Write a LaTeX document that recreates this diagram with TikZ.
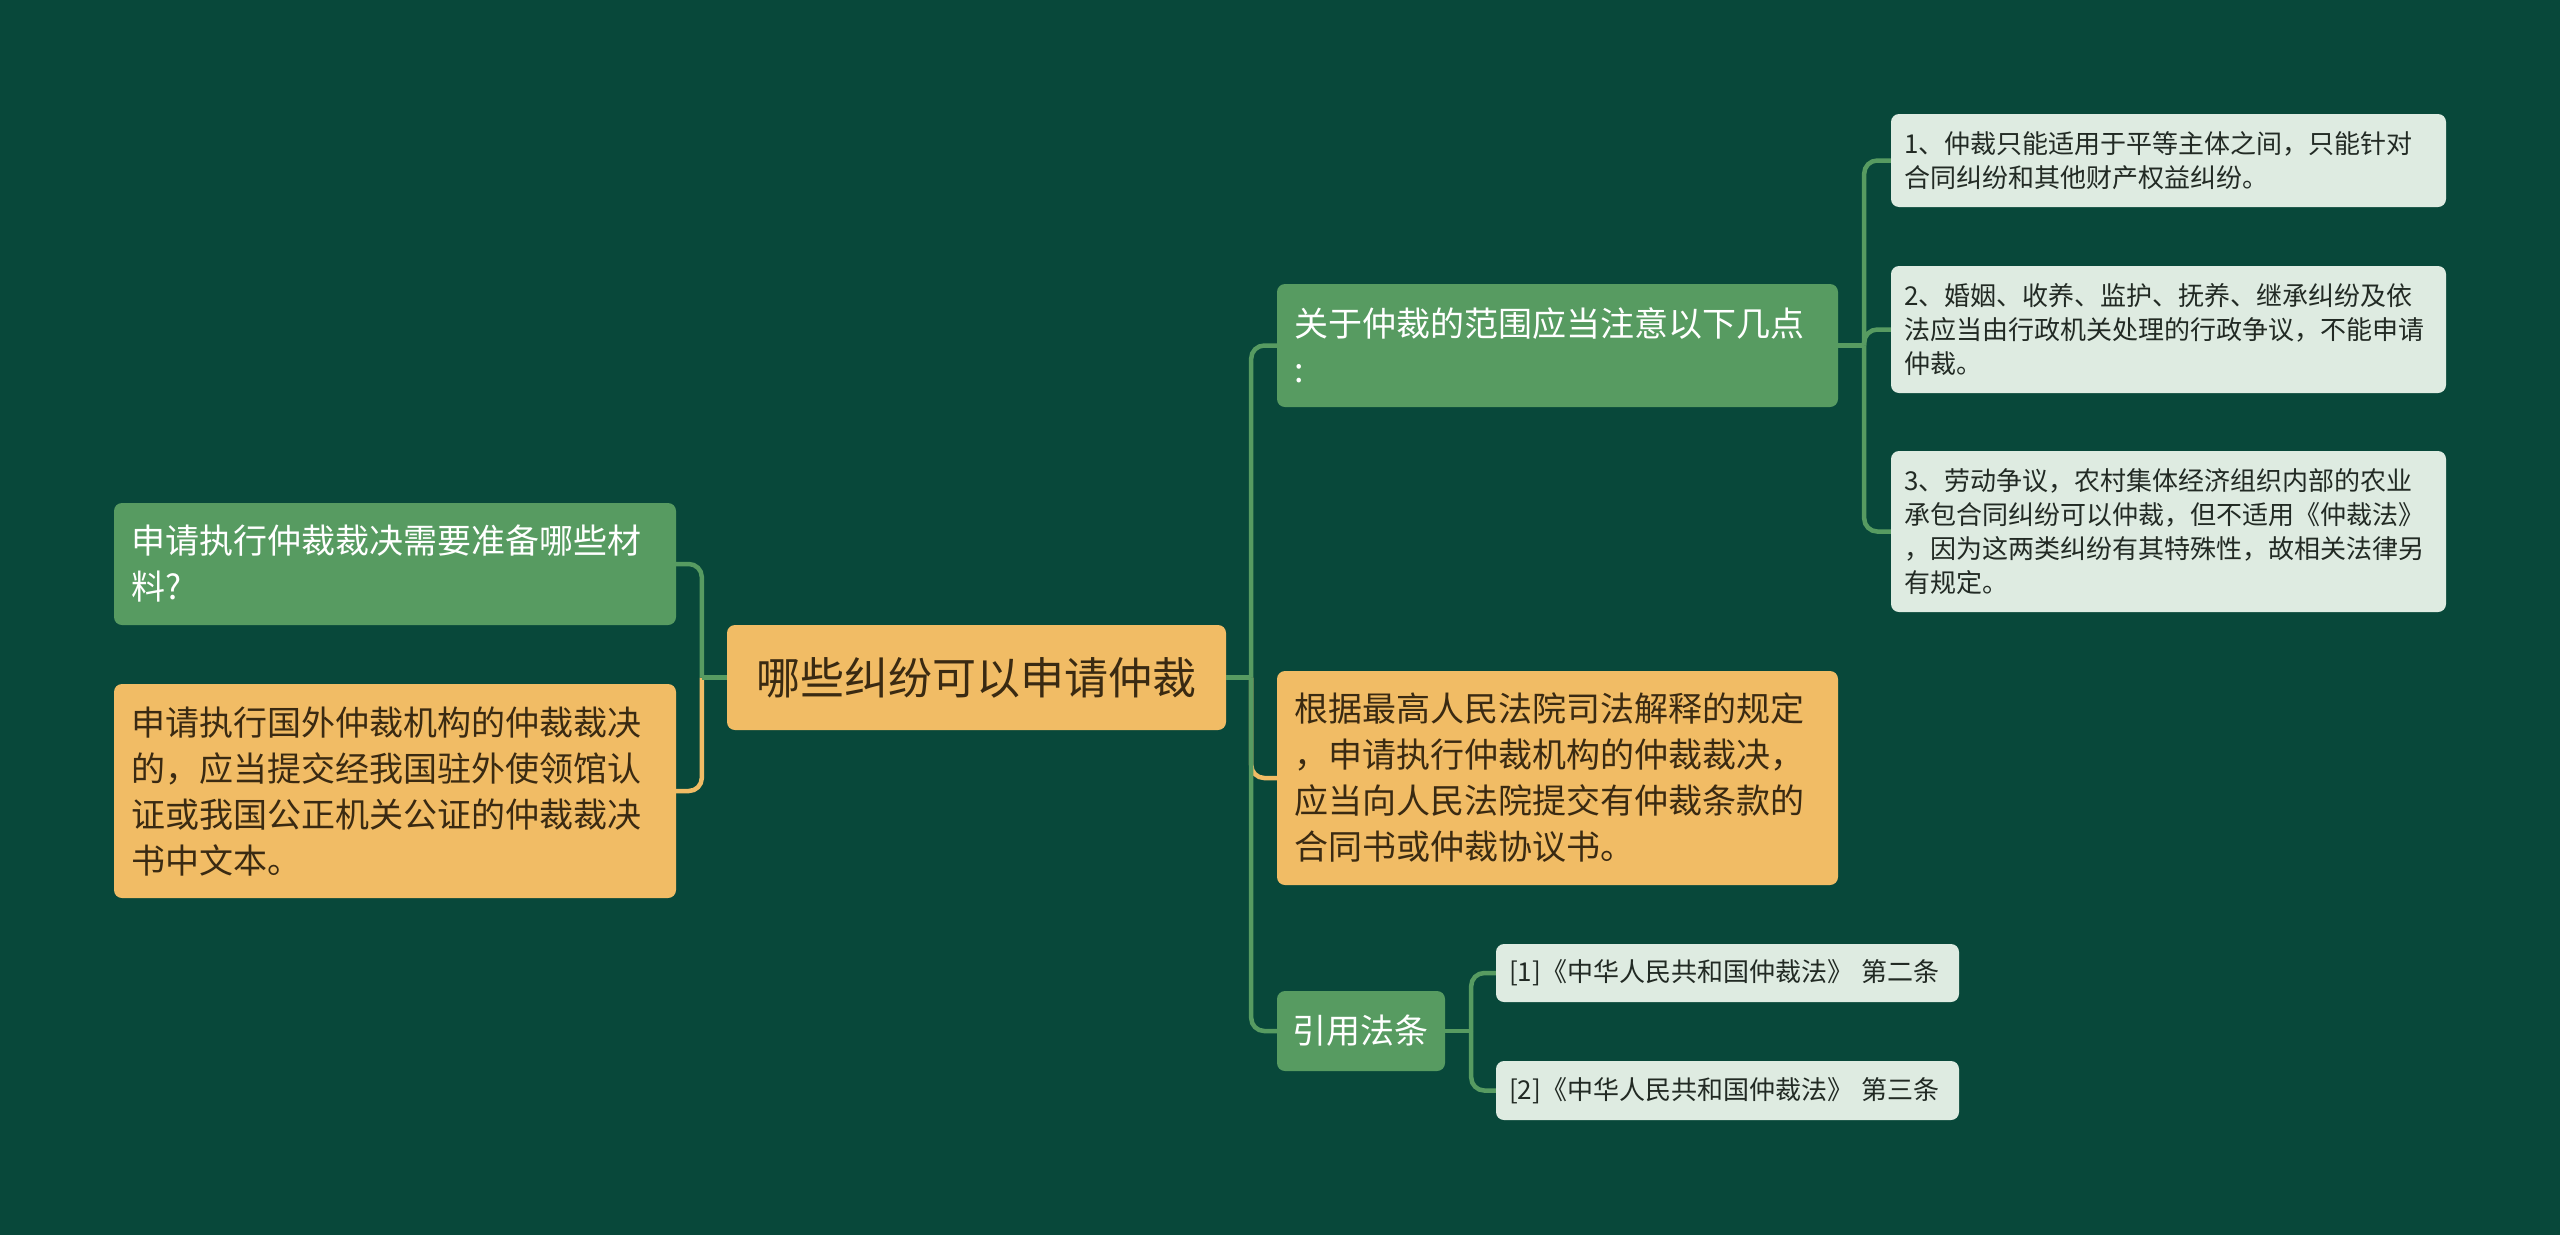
\documentclass[tikz,border=0pt]{standalone}
\usepackage{fontspec}
\setmainfont{Noto Sans CJK SC}
\definecolor{bg}{HTML}{08483A}
\definecolor{gfill}{HTML}{579B61}
\definecolor{ofill}{HTML}{F1BC65}
\definecolor{lfill}{HTML}{DEEBE1}
\definecolor{otext}{HTML}{3A2A12}
\definecolor{ltext}{HTML}{222A24}
\begin{document}
\begin{tikzpicture}[x=1pt,y=-1pt,
  box/.style={rectangle, rounded corners=8pt, inner ysep=0pt, inner xsep=17pt, align=left,
    font=\fontsize{34}{46}\selectfont},
  gbox/.style={box, fill=gfill, text=white},
  obox/.style={box, fill=ofill, text=otext},
  lbox/.style={box, fill=lfill, text=ltext, inner xsep=13pt, font=\fontsize{26}{34}\selectfont},
  gline/.style={draw=gfill, line width=4.5pt},
  oline/.style={draw=ofill, line width=4.5pt},
  curvy/.style={rounded corners=13pt}]
\useasboundingbox (0,0) rectangle (2560,1235);
\fill[bg] (0,0) rectangle (2560,1235);

% nodes
\node[obox, align=center, inner xsep=24pt, text width=451pt, minimum height=105pt,
  font=\fontsize{44}{52}\selectfont] (root) at (976.5,677.5) {哪些纠纷可以申请仲裁};

\node[gbox, text width=528pt, minimum height=122pt] (L1) at (395,564)
  {申请执行仲裁裁决需要准备哪些材\\料?};
\node[obox, text width=528pt, minimum height=214pt] (L2) at (395,791)
  {申请执行国外仲裁机构的仲裁裁决\\的，应当提交经我国驻外使领馆认\\证或我国公正机关公证的仲裁裁决\\书中文本。};

\node[gbox, text width=527pt, minimum height=123pt] (R1) at (1557.5,345.5)
  {关于仲裁的范围应当注意以下几点\\:};
\node[obox, text width=527pt, minimum height=214pt] (R2) at (1557.5,778)
  {根据最高人民法院司法解释的规定\\，申请执行仲裁机构的仲裁裁决，\\应当向人民法院提交有仲裁条款的\\合同书或仲裁协议书。};
\node[gbox, inner xsep=15pt, text width=138pt, minimum height=80pt] (R3) at (1361,1031)
  {引用法条};

\node[lbox, text width=529pt, minimum height=93pt] (RR1) at (2168.5,160.5)
  {1、仲裁只能适用于平等主体之间，只能针对\\合同纠纷和其他财产权益纠纷。};
\node[lbox, text width=529pt, minimum height=127pt] (RR2) at (2168.5,329.5)
  {2、婚姻、收养、监护、抚养、继承纠纷及依\\法应当由行政机关处理的行政争议，不能申请\\仲裁。};
\node[lbox, text width=529pt, minimum height=161pt] (RR3) at (2168.5,531.5)
  {3、劳动争议，农村集体经济组织内部的农业\\承包合同纠纷可以仲裁，但不适用《仲裁法》\\，因为这两类纠纷有其特殊性，故相关法律另\\有规定。};

\node[lbox, text width=437pt, minimum height=58pt] (C1) at (1727.5,973)
  {[1]《中华人民共和国仲裁法》 第二条};
\node[lbox, text width=437pt, minimum height=59pt] (C2) at (1727.5,1090.5)
  {[2]《中华人民共和国仲裁法》 第三条};

% junctions
\coordinate (jr) at ([xshift=25pt]root.east);
\coordinate (jl) at ([xshift=-25pt]root.west);
\coordinate (j1) at ([xshift=26pt]R1.east);
\coordinate (j3) at ([xshift=26pt]R3.east);

% connectors
\draw[oline, curvy] (jr) |- (R2.west);
\draw[gline, curvy] (jr) |- (R1.west);
\draw[gline, curvy] (jr) |- (R3.west);
\draw[gline] (root.east) -- (jr);

\draw[oline, curvy] (jl) |- (L2.east);
\draw[gline, curvy] (jl) |- (L1.east);
\draw[gline] (root.west) -- (jl);

\draw[gline] (R1.east) -- (j1);
\draw[gline, curvy] (j1) |- (RR1.west);
\draw[gline, curvy] (j1) |- (RR2.west);
\draw[gline, curvy] (j1) |- (RR3.west);

\draw[gline] (R3.east) -- (j3);
\draw[gline, curvy] (j3) |- (C1.west);
\draw[gline, curvy] (j3) |- (C2.west);
\end{tikzpicture}
\end{document}
